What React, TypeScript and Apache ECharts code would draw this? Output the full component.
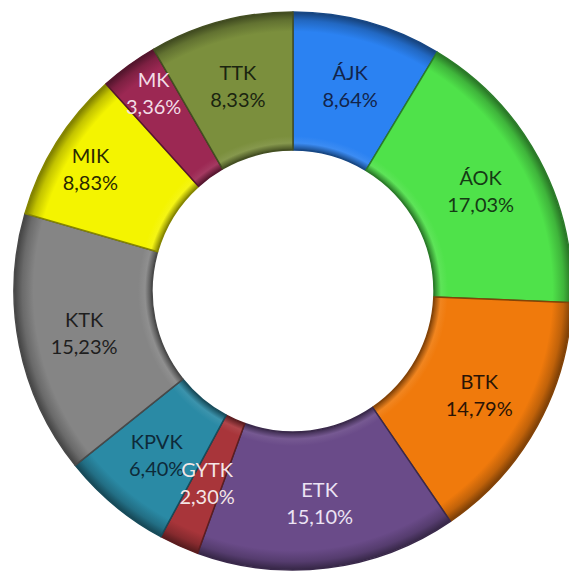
import React, { useEffect, useRef } from "react";
import * as echarts from "echarts";

const categories = ["ÁJK", "ÁOK", "BTK", "ETK", "GYTK", "KPVK", "KTK", "MIK", "MK", "TTK"];
const values = [8.64, 17.03, 14.79, 15.1, 2.3, 6.4, 15.23, 8.83, 3.36, 8.33];
const colors = ["#2b82f2", "#4fe24a", "#f07a0c", "#6a4b89", "#a8353a", "#2a8aa5", "#858585", "#f4f400", "#9c2853", "#7b8f3d"];
const labelColors = ["#12244a", "#153a15", "#2a1405", "#ece4f4", "#f4e6e6", "#0e2a3a", "#1e1e1e", "#2a2a00", "#f2dde6", "#1a2410"];
const labelOffsets: Record<string, [number, number]> = { MIK: [-22, -10], MK: [-14, -26] };

const CX = 293;
const CY = 291;
const R = 279;
const RI = 141;
const FONT = "Lato";
const FONT_SIZE = 20;
const LINE_H = 27;

function shade(hex: string, f: number): string {
  const n = parseInt(hex.slice(1), 16);
  const c = (v: number) => Math.max(0, Math.min(255, Math.round(v))).toString(16).padStart(2, "0");
  return "#" + c(((n >> 16) & 255) * f) + c(((n >> 8) & 255) * f) + c((n & 255) * f);
}

function lighten(hex: string, t: number): string {
  const n = parseInt(hex.slice(1), 16);
  const m = (v: number) => v + (255 - v) * t;
  const c = (v: number) => Math.max(0, Math.min(255, Math.round(v))).toString(16).padStart(2, "0");
  return "#" + c(m((n >> 16) & 255)) + c(m((n >> 8) & 255)) + c(m(n & 255));
}

const fmt = (v: number) => v.toFixed(2).replace(".", ",") + "%";

export default function App() {
  const ref = useRef<HTMLDivElement>(null);
  useEffect(() => {
    if (!ref.current) return;
    const chart = echarts.init(ref.current, undefined, { renderer: "svg" });
    const f = RI / R;
    const total = values.reduce((a, b) => a + b, 0);
    const small = ["GYTK"];
    const data = categories.map((name, i) => ({
      name,
      value: values[i],
      itemStyle: {
        color: {
          type: "radial",
          x: CX,
          y: CY,
          r: R,
          global: true,
          colorStops: [
            { offset: 0, color: shade(colors[i], 0.55) },
            { offset: f, color: shade(colors[i], 0.55) },
            { offset: f + 0.025, color: lighten(colors[i], 0.08) },
            { offset: f + 0.05, color: colors[i] },
            { offset: 0.93, color: colors[i] },
            { offset: 0.97, color: shade(colors[i], 0.8) },
            { offset: 1, color: shade(colors[i], 0.5) },
          ],
        },
        borderColor: shade(colors[i], 0.55),
        borderWidth: 1.5,
      },
      label: {
        show: small.indexOf(name) < 0,
        color: labelColors[i],
        offset: labelOffsets[name] || [0, 0],
      },
    }));

    // labels for slices too thin for ECharts' inside labels, placed at the slice's mid-angle
    const rm = (RI + R) / 2;
    const graphics = small.map((name) => {
      const idx = categories.indexOf(name);
      let cum = 0;
      for (let k = 0; k < idx; k++) cum += values[k];
      const mid = cum + values[idx] / 2;
      const ang = ((90 - (360 * mid) / total) * Math.PI) / 180;
      return {
        type: "text",
        z: 100,
        x: CX + rm * Math.cos(ang),
        y: CY - rm * Math.sin(ang),
        style: {
          text: name + "\n" + fmt(values[idx]),
          fill: labelColors[idx],
          fontFamily: FONT,
          fontSize: FONT_SIZE,
          lineHeight: LINE_H,
          align: "center",
          verticalAlign: "middle",
        },
      };
    });

    chart.setOption({
      animation: false,
      backgroundColor: "#ffffff",
      graphic: graphics,
      series: [
        {
          type: "pie",
          center: [CX, CY],
          radius: [RI, R],
          startAngle: 90,
          clockwise: true,
          avoidLabelOverlap: false,
          label: {
            show: true,
            position: "inside",
            fontFamily: FONT,
            fontSize: FONT_SIZE,
            lineHeight: LINE_H,
            formatter: (p: any) => p.name + "\n" + fmt(p.value),
          },
          labelLine: { show: false },
          data,
        },
      ],
    });
    return () => chart.dispose();
  }, []);
  return <div ref={ref} style={{ position: "fixed", left: 0, top: 0, width: 569, height: 574 }} />;
}
